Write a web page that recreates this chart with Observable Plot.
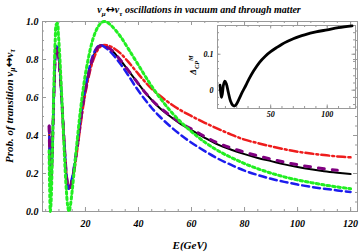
<!DOCTYPE html>
<html><head><meta charset="utf-8">
<script src="https://cdn.jsdelivr.net/npm/d3@7"></script>
<script src="https://cdn.jsdelivr.net/npm/@observablehq/plot@0.6"></script>
<style>
body{margin:0;background:#fff;}
#wrap{position:relative;width:361px;height:252px;}
#wrap svg{position:absolute;}
</style></head><body><div id="wrap"></div>
<script>
// ---- data ----
const E_matter = [6.3,6.6,6.9,7.3,7.8,8.3,8.7,9.1,9.5,10,10.5,11,11.5,12,12.5,13,13.6,14,15,16,17,18,19,20,21,22,23,24,25,26,27,28,30,33,36,39,42,45,48,52,56,60,65,70,75,80,85,90,95,100,105,110,115,120];
const P_black  = [0.45,0.26,0.16,0.24,0.47,0.70,0.83,0.87,0.86,0.80,0.71,0.60,0.48,0.36,0.25,0.17,0.12,0.122,0.17,0.25,0.35,0.46,0.56,0.64,0.71,0.77,0.815,0.85,0.868,0.875,0.874,0.867,0.848,0.80,0.745,0.69,0.635,0.587,0.545,0.50,0.46,0.428,0.388,0.352,0.325,0.302,0.282,0.265,0.248,0.234,0.222,0.212,0.204,0.197];
const P_purple = [0.45,0.26,0.16,0.24,0.47,0.70,0.83,0.87,0.86,0.80,0.71,0.60,0.48,0.36,0.25,0.17,0.12,0.122,0.17,0.25,0.35,0.46,0.56,0.64,0.71,0.77,0.815,0.85,0.868,0.875,0.874,0.867,0.848,0.80,0.745,0.69,0.635,0.588,0.548,0.504,0.465,0.434,0.395,0.36,0.334,0.312,0.293,0.276,0.26,0.246,0.235,0.225,0.217,0.211];
const P_red    = [0.45,0.26,0.16,0.24,0.47,0.70,0.83,0.87,0.86,0.80,0.71,0.60,0.48,0.36,0.25,0.17,0.12,0.12,0.16,0.235,0.335,0.44,0.54,0.625,0.695,0.755,0.80,0.835,0.858,0.871,0.876,0.875,0.865,0.835,0.79,0.74,0.69,0.645,0.61,0.568,0.532,0.502,0.467,0.435,0.405,0.378,0.36,0.343,0.328,0.315,0.305,0.297,0.29,0.285];
const P_blue   = [0.45,0.26,0.16,0.24,0.47,0.70,0.83,0.87,0.86,0.80,0.71,0.60,0.48,0.36,0.25,0.17,0.12,0.13,0.18,0.265,0.365,0.475,0.575,0.655,0.725,0.785,0.828,0.857,0.872,0.874,0.868,0.858,0.832,0.78,0.72,0.655,0.597,0.545,0.50,0.448,0.402,0.362,0.318,0.278,0.245,0.215,0.192,0.172,0.156,0.142,0.13,0.12,0.111,0.103];
const E_vac = [6.3,6.5,6.75,7.0,7.4,7.8,8.2,8.6,9.0,9.4,9.8,10.3,10.8,11.3,11.8,12.3,12.8,13.3,13.8,14.3,15,16,17,18,19,20,21,22,23,24,25,26,27,28,30,33,36,40,44,48,52,56,60,65,70,75,80,85,90,95,100,105,110,115,120];
const P_green = [0.32,0.12,0.0,0.04,0.22,0.48,0.72,0.9,0.985,0.99,0.93,0.82,0.68,0.53,0.38,0.23,0.11,0.03,0.0,0.03,0.11,0.25,0.39,0.52,0.63,0.725,0.8,0.865,0.915,0.952,0.978,0.994,1.0,0.997,0.975,0.925,0.86,0.77,0.68,0.6,0.53,0.47,0.42,0.365,0.32,0.284,0.252,0.225,0.202,0.182,0.166,0.152,0.14,0.129,0.12];
const E_delta = [5.2,5.8,6.5,7.3,8.3,9.5,10.8,12.5,14.5,16.5,18,19.5,22,25,28,31,35,40,45,50,55,60,65,70,75,80,90,100,110,122];
const D_delta = [0.014,-0.005,-0.02,-0.01,0.015,0.025,0.018,-0.005,-0.03,-0.042,-0.044,-0.04,-0.025,-0.005,0.013,0.032,0.054,0.077,0.094,0.107,0.118,0.128,0.136,0.143,0.149,0.154,0.162,0.168,0.174,0.179];
const xTicks = [20,40,60,80,100,120];
const yTicks = [0,0.2,0.4,0.6,0.8,1.0];
const insetXTicks = [50,100];
const insetYTicks = [0,0.1];

const toRows = (E,P) => E.map((e,i)=>({E:e,P:P[i]}));
const black = toRows(E_matter,P_black);
const purple = toRows(E_matter,P_purple).filter(d=>d.E<=118);
const red = toRows(E_matter,P_red);
const blue = toRows(E_matter,P_blue);
const green = toRows(E_vac,P_green);
const delta = toRows(E_delta,D_delta);

const W=361,H=252,mL=42,mR=4,mT=21,mB=41;
const fw=W-mL-mR, fh=H-mT-mB;
const xMinor = d3.range(5,121,5);
const yMinor = d3.range(0,1.0001,0.05);
const fc = "#999";
const font = {fontFamily:"'Liberation Serif',serif",fontSize:"10px",fontStyle:"italic",fontWeight:"bold",background:"transparent",overflow:"visible"};

function frameTicks(xs, ys, len, w, h){
  return [
    Plot.tickX(xs,{x:d=>d,insetTop:h-len,stroke:fc}),
    Plot.tickX(xs,{x:d=>d,insetBottom:h-len,stroke:fc}),
    Plot.tickY(ys,{y:d=>d,insetRight:w-len,stroke:fc}),
    Plot.tickY(ys,{y:d=>d,insetLeft:w-len,stroke:fc})
  ];
}

const main = Plot.plot({
  width:W,height:H,marginLeft:mL,marginRight:mR,marginTop:mT,marginBottom:mB,
  style:font,
  x:{domain:[3.8,122.6],ticks:xTicks,tickSize:0,tickPadding:8,label:null},
  y:{domain:[0,1],ticks:yTicks,tickSize:0,tickPadding:4,tickFormat:d=>d.toFixed(1),label:null},
  marks:[
    Plot.frame({stroke:fc}),
    ...frameTicks(xMinor,yMinor,2,fw,fh),
    ...frameTicks(xTicks,yTicks,4,fw,fh),
    Plot.line(black,{x:"E",y:"P",stroke:"#000",strokeWidth:2,curve:"catmull-rom"}),
    Plot.line(red,{x:"E",y:"P",stroke:"#ee1c1c",strokeWidth:2.5,strokeDasharray:"8,3,2,3",curve:"catmull-rom"}),
    Plot.line(blue,{x:"E",y:"P",stroke:"#1c1cee",strokeWidth:2.5,strokeDasharray:"7,4",curve:"catmull-rom"}),
    Plot.line(purple,{x:"E",y:"P",stroke:"#800080",strokeWidth:3,strokeDasharray:"6,8",curve:"catmull-rom"}),
    Plot.line(green,{x:"E",y:"P",stroke:"#22ee22",strokeWidth:3,strokeDasharray:"2.5,3",curve:"catmull-rom"})
  ]
});
main.style.left="0px"; main.style.top="0px";
document.getElementById("wrap").appendChild(main);

function richText(svg, x, y, parts, opts){
  const t = d3.select(svg).append("text")
    .attr("x",x).attr("y",y)
    .attr("text-anchor",opts.anchor||"middle")
    .attr("font-family","'Liberation Serif',serif")
    .attr("font-style","italic").attr("font-weight","bold")
    .attr("font-size",opts.size).attr("fill","#000");
  if(opts.rotate) t.attr("transform",`rotate(${opts.rotate},${x},${y})`);
  let shift=0;
  for(const p of parts){
    const s = typeof p==="string" ? {t:p,dy:0} : p;
    const ts = t.append("tspan").text(s.t);
    const dy = s.dy - shift; shift = s.dy;
    if(dy) ts.attr("dy",dy);
    if(s.dy) ts.attr("font-size",opts.size*0.7);
    if(s.arrow) ts.attr("font-family","'DejaVu Sans',sans-serif").attr("font-style","normal").attr("font-size",opts.size*1.1);
  }
  return t;
}
richText(main,199,13,["ν",{t:"μ",dy:2.5},{t:"↔",dy:0,arrow:true},"ν",{t:"τ",dy:2.5}," oscillations in vacuum and through matter"],{size:10});
richText(main,12.5,106,["Prob. of transition ν",{t:"μ",dy:2.5},{t:"↔",dy:0,arrow:true},"ν",{t:"τ",dy:2.5}],{size:11,rotate:-90});
richText(main,190,249,["E(GeV)"],{size:11});

const iw=170, ih=110, imL=27, imR=5, imT=10, imB=17;
const inset = Plot.plot({
  width:iw,height:ih,marginLeft:imL,marginRight:imR,marginTop:imT,marginBottom:imB,
  style:{...font,fontSize:"8px"},
  x:{domain:[3,125],ticks:insetXTicks,tickSize:0,tickPadding:3,label:null},
  y:{domain:[-0.051,0.18],ticks:insetYTicks,tickSize:0,tickPadding:4,tickFormat:d=>d===0?"0":d.toFixed(1),label:null},
  marks:[
    Plot.frame({stroke:fc}),
    ...frameTicks(d3.range(10,121,10),d3.range(-0.04,0.18,0.02),2,iw-imL-imR,ih-imT-imB),
    ...frameTicks(insetXTicks,insetYTicks,3.5,iw-imL-imR,ih-imT-imB),
    Plot.line(delta,{x:"E",y:"P",stroke:"#000",strokeWidth:2.8,curve:"catmull-rom"})
  ]
});
inset.style.left="190px"; inset.style.top="15px";
document.getElementById("wrap").appendChild(inset);
richText(inset,6,50,["Δ",{t:"CP",dy:2.5},{t:"M",dy:-3.5}],{size:9,rotate:-90});
</script></body></html>
